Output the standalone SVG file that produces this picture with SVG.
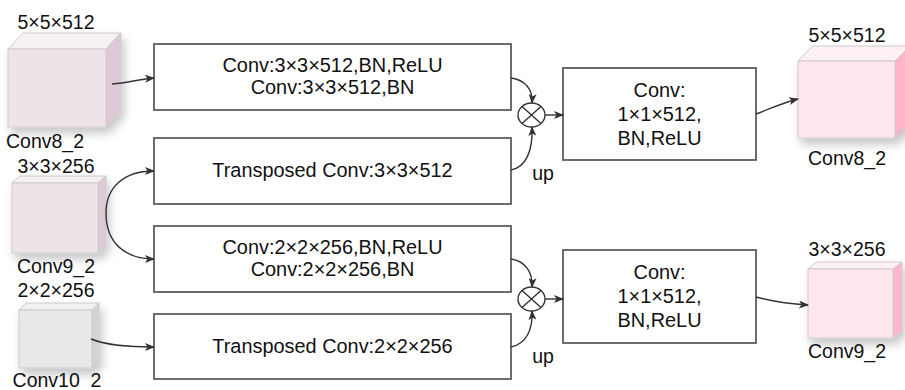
<svg xmlns="http://www.w3.org/2000/svg" width="905" height="390" viewBox="0 0 905 390">
<defs>
<marker id="arr" markerWidth="10" markerHeight="8" refX="9" refY="4" orient="auto" markerUnits="userSpaceOnUse">
<path d="M0,0 L10,4 L0,8 L2.5,4 z" fill="#333"/>
</marker>
<filter id="sh" x="-30%" y="-30%" width="160%" height="170%">
<feDropShadow dx="3" dy="6" stdDeviation="5" flood-color="#000" flood-opacity="0.22"/>
</filter>
<style>
text{font-family:"Liberation Sans",Arial,sans-serif;font-size:19.5px;fill:#111;text-anchor:middle}
.bt{font-size:19.9px}
.box{fill:#fff;stroke:#5e5e5e;stroke-width:1.8}
.con{fill:none;stroke:#333;stroke-width:1.4;marker-end:url(#arr)}
.edge{stroke:#cccccc;stroke-width:1}
.pf{fill:#efe3ea}.ps{fill:#dec8d6}.pt{fill:#f6eff3}
.gf{fill:#e8e8e8}.gs{fill:#d4d4d4}.gt{fill:#f1f1f1}
.rf{fill:#ffe5ec}.rs{fill:#ffb5c8}.rt{fill:#fff0f4}
.op{fill:#fff;stroke:#333;stroke-width:1.4}
</style>
</defs>

<g id="cube-conv8-in">
<g filter="url(#sh)">
<polygon class="pt edge" points="8,49 23,33 121,33 106,49"/>
<polygon class="ps edge" points="106,49 121,33 121,111 106,127"/>
<rect class="pf edge" x="8" y="49" width="98" height="78"/>
</g>
<text x="56" y="29">5×5×512</text>
<text x="45" y="148">Conv8_2</text>
</g>

<g id="cube-conv9-in">
<g filter="url(#sh)">
<polygon class="pt edge" points="12,183 20,176 106,176 98,183"/>
<polygon class="ps edge" points="98,183 106,176 106,246 98,253"/>
<rect class="pf edge" x="12" y="183" width="86" height="70"/>
</g>
<text x="56" y="173">3×3×256</text>
<text x="56" y="273">Conv9_2</text>
</g>

<g id="cube-conv10-in">
<g filter="url(#sh)">
<polygon class="gt edge" points="19,310 26,303 99,303 92,310"/>
<polygon class="gs edge" points="92,310 99,303 99,361 92,368"/>
<rect class="gf edge" x="19" y="310" width="73" height="58"/>
</g>
<text x="56" y="297">2×2×256</text>
<text x="57" y="387">Conv10_2</text>
</g>

<g id="box-conv-a">
<rect class="box" x="154" y="44" width="357" height="66"/>
<text class="bt" x="332.5" y="72">Conv:3×3×512,BN,ReLU</text>
<text class="bt" x="332.5" y="94">Conv:3×3×512,BN</text>
</g>

<g id="box-tconv-a">
<rect class="box" x="154" y="138" width="357" height="66"/>
<text class="bt" x="332.5" y="177">Transposed Conv:3×3×512</text>
</g>

<g id="box-conv-b">
<rect class="box" x="154" y="226" width="357" height="66"/>
<text class="bt" x="332.5" y="254">Conv:2×2×256,BN,ReLU</text>
<text class="bt" x="332.5" y="276">Conv:2×2×256,BN</text>
</g>

<g id="box-tconv-b">
<rect class="box" x="154" y="314" width="357" height="65"/>
<text class="bt" x="332.5" y="353">Transposed Conv:2×2×256</text>
</g>

<g id="op-a">
<ellipse class="op" cx="531.5" cy="115" rx="13.5" ry="12"/>
<path d="M522,106.5 L541,123.5 M541,106.5 L522,123.5" stroke="#333" stroke-width="1.4"/>
<text x="543" y="180">up</text>
</g>

<g id="op-b">
<ellipse class="op" cx="531.5" cy="299" rx="13.5" ry="12"/>
<path d="M522,290.5 L541,307.5 M541,290.5 L522,307.5" stroke="#333" stroke-width="1.4"/>
<text x="543" y="363">up</text>
</g>

<g id="box-conv-c">
<rect class="box" x="563" y="68" width="193" height="92"/>
<text class="bt" x="659.5" y="97">Conv:</text>
<text class="bt" x="659.5" y="121">1×1×512,</text>
<text class="bt" x="659.5" y="145">BN,ReLU</text>
</g>

<g id="box-conv-d">
<rect class="box" x="563" y="250" width="193" height="93"/>
<text class="bt" x="659.5" y="279">Conv:</text>
<text class="bt" x="659.5" y="303">1×1×512,</text>
<text class="bt" x="659.5" y="327">BN,ReLU</text>
</g>

<g id="cube-conv8-out">
<g filter="url(#sh)">
<polygon class="rt edge" points="798,61 813,46 910,46 895,61"/>
<polygon class="rs edge" points="895,61 910,46 910,123 895,138"/>
<rect class="rf edge" x="798" y="61" width="97" height="77"/>
</g>
<text x="847" y="42">5×5×512</text>
<text x="847" y="165">Conv8_2</text>
</g>

<g id="cube-conv9-out">
<g filter="url(#sh)">
<polygon class="rt edge" points="808,269 817,262 902,262 893,269"/>
<polygon class="rs edge" points="893,269 902,262 902,331 893,338"/>
<rect class="rf edge" x="808" y="269" width="85" height="69"/>
</g>
<text x="847" y="256">3×3×256</text>
<text x="847" y="358">Conv9_2</text>
</g>

<g id="connectors">
<path class="con" d="M112,84 C128,83 140,79 154,78"/>
<path class="con" d="M106,213 C106,187 124,171 154,171"/>
<path class="con" d="M106,213 C106,242 124,259 154,259"/>
<path class="con" d="M91,339 C108,346 130,347 154,347"/>
<path class="con" d="M511,78 C525,80 533,89 532,103"/>
<path class="con" d="M511,170 C526,167 533,151 532,127"/>
<path class="con" d="M545,115 L563,115"/>
<path class="con" d="M511,259 C525,261 533,272 532,287"/>
<path class="con" d="M511,347 C526,344 533,330 532,311"/>
<path class="con" d="M545,299 L563,299"/>
<path class="con" d="M756,114 C772,108 785,102 798,99"/>
<path class="con" d="M756,297 C775,302 790,304 808,305"/>
</g>
</svg>
